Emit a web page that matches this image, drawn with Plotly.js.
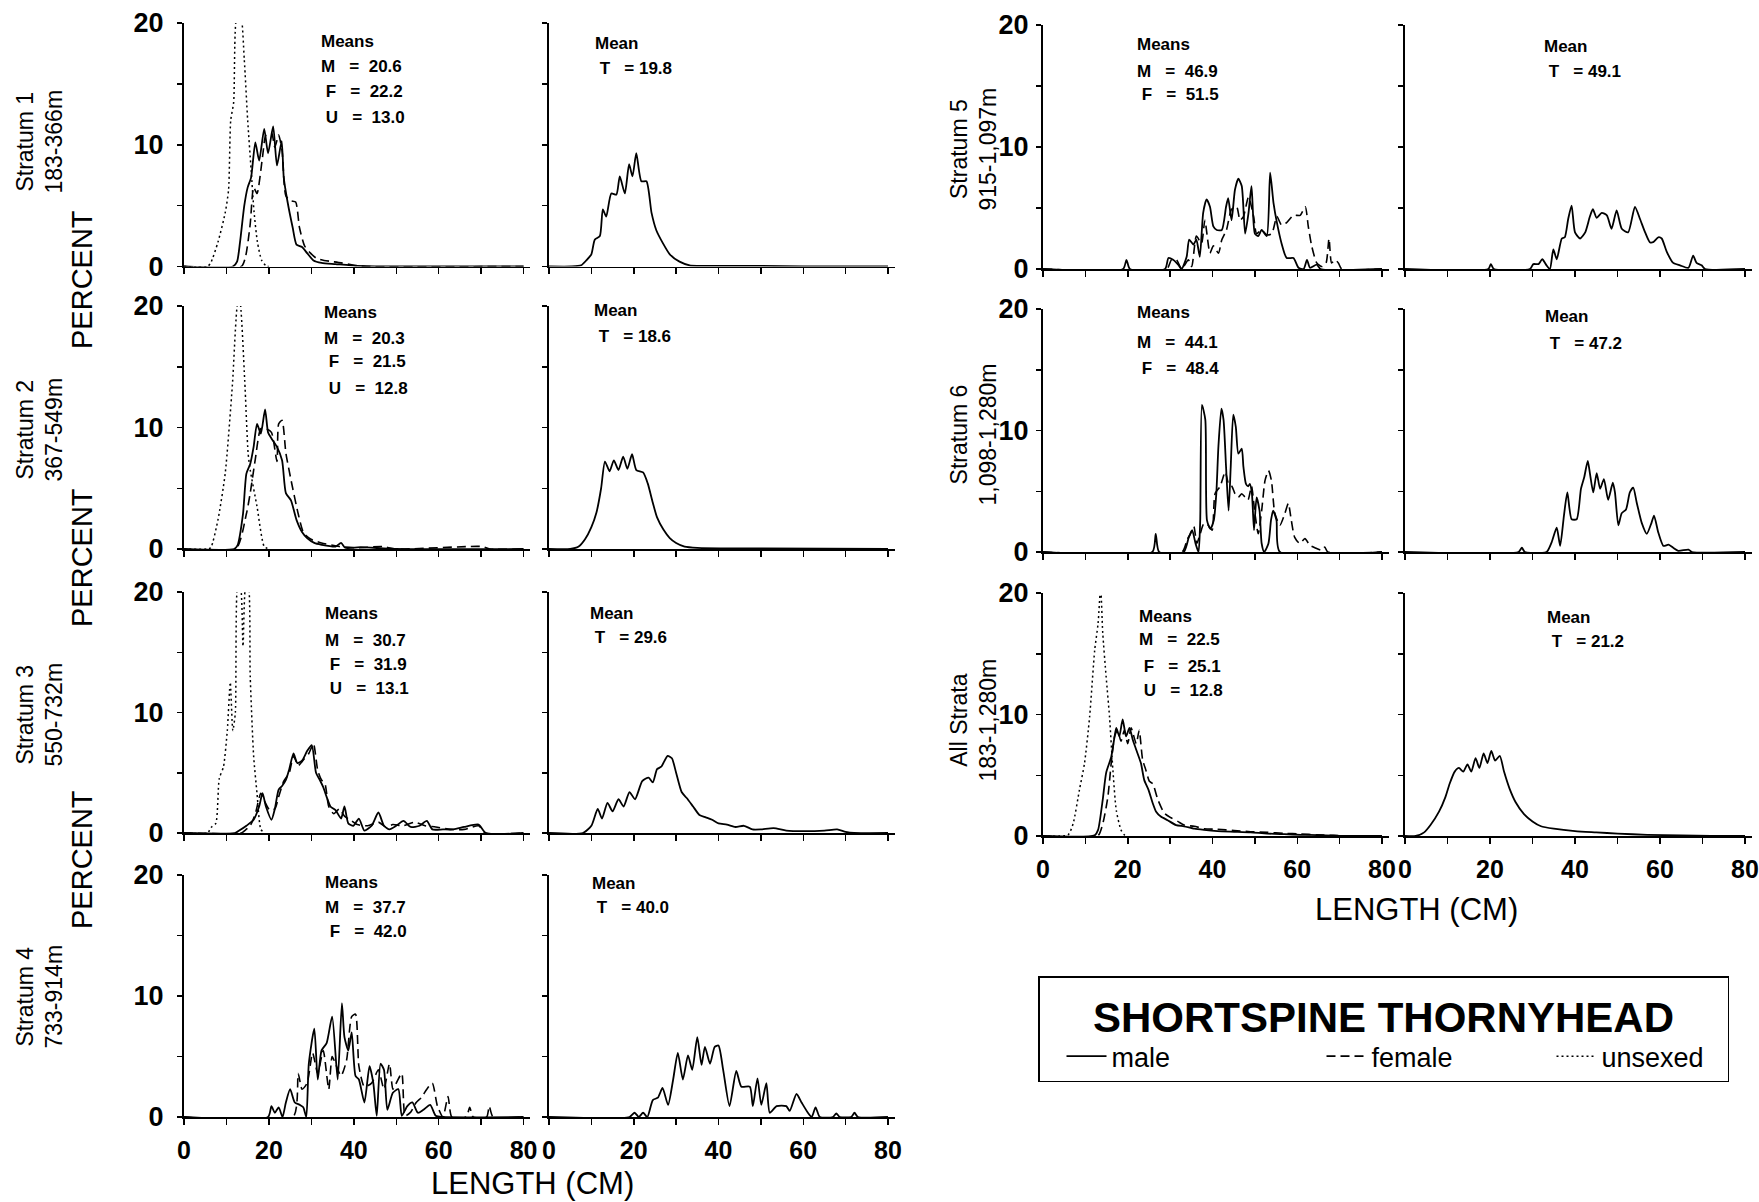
<!DOCTYPE html>
<html>
<head>
<meta charset="utf-8">
<script src="https://cdn.plot.ly/plotly-3.0.1.min.js"></script>
<style>
  html, body { margin: 0; padding: 0; background: #fff; }
  #chart { width: 1759px; height: 1202px; }
</style>
</head>
<body>
<div id="chart"></div>
<script>
// ---------------- DATA ----------------

// Stratum 1 (183-366m)
const m1x = [0,11.5,12.5,13.2,14.2,15,15.8,16.8,17.7,18.9,19.8,21,21.9,23,23.5,24.4,25.6,26.5,27.8,29,30.5,32.4,35.7,40.8,45,80];
const m1y = [0,0,0.4,2,5,6.5,7.3,10.2,8.7,11.3,9.3,11.5,8.3,10.3,7.3,5.3,3.2,1.8,1.6,1.1,0.5,0.3,0.2,0.05,0,0];
const f1x = [0,13.5,14.5,15.6,16.4,17.2,18.5,19.3,20.6,21.4,22.3,23.1,24,25.2,26.3,27.2,28.4,29.8,31.1,33,35,37,40,43,80];
const f1y = [0,0,0.8,3.5,6.5,6,9,10.8,11,9.8,10.8,9.5,5.8,5.4,5.3,3.2,1.7,1.1,0.7,0.5,0.4,0.3,0.1,0,0];
const u1x = [0,5.5,6.3,8,9.7,10.5,11,11.7,12.4,13.3,14.2,15,15.8,16.5,17.3,18.3,19.5,20];
const u1y = [0,0,0.3,2,4.4,6.3,12,13.5,20.5,20.8,17,12,8,4.5,2,0.5,0,0];
const t1x = [0,5.3,7.6,8.8,10,10.8,12,12.7,13.5,14.7,15.9,16.7,17.9,18.9,19.7,20.6,21.8,23,24.2,25.3,26.9,28.5,30.8,33.2,40,50,60,80];
const t1y = [0,0,0.1,0.5,1,2.2,2.5,4.7,4.1,6,5.9,7.4,6,8.4,7.4,9.3,7,7,4.4,3,1.9,1,0.4,0.1,0.05,0.05,0,0];

// Stratum 2 (367-549m)
const m2x = [0,11.8,12.6,13.9,14.7,15.6,16.4,17.2,18.1,19.1,19.8,20.6,21.9,23.1,24,25.2,26.5,27.8,29,30.7,32.4,35.7,37,38,41.6,50,80];
const m2y = [0,0,0.3,2.9,6.2,7,8.4,10.3,9.5,11.5,9.6,9.1,8.4,7.3,4.6,4,2.4,1.4,0.9,0.5,0.35,0.2,0.5,0.1,0.15,0,0];
const f2x = [0,12.2,14.7,15.6,16.8,18.1,19.3,20.6,21.9,22.3,23.1,24,25.2,26.9,28.2,29.9,32.4,36.6,40.8,46.7,50,70.2,72,80];
const f2y = [0,0,2.9,4.6,7.4,9.9,9.9,9.6,7.2,10.3,10.6,7.9,5.7,2.9,1.3,0.8,0.5,0.2,0.1,0.2,0,0.2,0,0];
const u2x = [0,5.5,6.3,8,9.7,11.4,12.6,13.1,14.3,15.1,15.6,17.2,18.9,20];
const u2y = [0,0,0.1,2.4,6.2,13.5,20.2,20.6,13.9,7.9,6.5,3.5,0.2,0];
const t2x = [0,5,7,8.5,10,11.2,12.3,13.2,14.3,15.3,16.4,17.5,18.5,19.6,20.6,22.2,23.3,24.5,25.5,27,28.5,30,32,35,45,80];
const t2y = [0,0,0.2,0.8,1.8,3,5,7.2,6.4,7.3,6.5,7.6,6.6,7.8,6.5,6.3,5.4,3.8,2.6,1.6,0.9,0.5,0.2,0.1,0.05,0];

// Stratum 3 (550-732m)
const m3x = [0,12,13,14.7,16.4,17.7,18.5,19.3,20.6,21.4,22.3,23.1,24,24.8,25.8,26.7,27.8,29,30.1,31.1,32,32.8,33.6,34.5,35.7,37,37.8,38.7,39.9,41.2,42.5,44.2,45.8,47.1,48.4,50,51.7,53.4,55.5,57.2,58.5,61,63.5,66,69.4,71.1,80];
const m3y = [0,0,0.2,0.6,1.1,2.2,3.3,2.2,1.1,2,3.6,3.9,4.4,5.3,6.6,5.8,6,6.8,7.3,5,4.4,3.8,3,2.2,1.9,1.2,2.2,0.8,0.6,1.2,0.2,0.6,1.7,0.6,0.3,0.6,1,0.5,0.6,1,0.3,0.3,0.3,0.5,0.7,0,0];
const f3x = [0,13.5,14.3,15.6,16.8,18.1,18.9,20.2,21.4,22.3,23.5,24.8,25.8,26.9,28.2,29.4,30.5,31.5,32.4,33.2,34.1,35.3,36.6,37.8,39.5,40.8,43.3,45.8,47.5,49.2,51.7,54.3,56.8,59.3,62.7,66,69.4,71,80];
const f3y = [0,0,0.2,0.6,1.6,3.3,2.7,1.9,2,3,4.3,5,6.4,5.6,6.1,6.6,7.4,5.2,4.4,4.1,2.2,1.6,2,1.4,1,0.7,0.6,0.9,0.5,0.7,0.6,0.9,0.6,0.5,0.3,0.3,0.6,0,0];
const u3x = [0,5.5,6.5,7.5,8.3,9.3,10.2,10.9,11.5,12.1,12.7,13.3,13.9,14.6,15.1,15.6,16.4,17.2,18.1,19];
const u3y = [0,0,0.5,0.8,4.5,5.5,8.5,12.5,8.5,10,20.7,20.5,15.5,20.7,20.7,13,6.4,3.3,0.3,0];
const t3x = [0,8,10,11.5,12.5,13.8,15,16.4,17.6,19,20.3,22,23.5,24.5,25.5,26.5,28,29,30,31.3,32.5,34,35.5,37,38.5,40,42,44,46,48,50,53,56,60,65,68,70,72,80];
const t3y = [0,0,0.6,2,1.2,2.5,1.8,2.8,2.2,3.4,2.8,4.3,4.6,4.2,5.3,5.5,6.4,6.2,5,3.4,2.9,2.2,1.5,1.3,1.1,0.8,0.7,0.5,0.6,0.3,0.3,0.4,0.2,0.15,0.2,0.3,0.1,0,0];

// Stratum 4 (733-914m)
const m4x = [0,19.8,20.6,21.4,22.3,23.2,24,25,26.1,27.3,28.1,28.8,29.4,30.7,31.5,32.4,33.6,34.9,36.2,37.2,37.8,38.7,39.5,40.4,41.2,42.5,43.7,44.6,45.4,46.3,47.1,47.9,49.2,50.5,51.3,52.6,53.8,55.1,56.4,58,59.3,61,80];
const m4y = [0,0,0.9,0.35,0.8,0,1.2,2.3,1.2,1,0.8,0,4.4,7.3,3.1,5.5,6.1,8.3,3.1,9.4,6.6,5.5,7,3.4,3.1,1.2,4.2,2.8,0.1,4.4,3.9,0.6,2,2.3,0.1,0.9,1.2,0.35,0.6,1,0.1,0,0];
const f4x = [0,25.7,26.9,27.8,29,30.3,31.5,32.8,34.1,34.9,35.7,37,38.3,39.5,40.4,41.2,42.5,44.2,45.8,47.1,48.4,49.2,50,51.3,52.1,53.4,54.7,55.9,57.2,58.5,59.7,61,62.2,63.1,66.5,67.3,68.1,71.3,71.9,72.8,80];
const f4y = [0,0,3.6,2.3,2.8,5.3,3.6,5.5,2.3,5,4.4,3.4,4.7,8.3,8.5,4.2,2.5,2.8,3.9,2.3,4.4,2.3,2.8,3.6,0.1,0.4,1.2,1.6,2.3,2.8,0.9,0,1.7,0,0,0.8,0,0,0.9,0,0];
const t4x = [0,19,20.2,21.2,22.2,23.2,24.5,25.7,26.8,28.1,29.3,30.4,31.6,32.8,33.8,35,36,36.8,38,39.1,40,41.1,42.6,44.2,45.4,47.4,48.1,49.2,50.1,51.3,52.1,53.7,56,56.8,58.4,59.6,61.1,62,62.9,63.9,67,67.8,68.6,71.3,72.1,72.9,80];
const t4y = [0,0,0.35,0,0.35,0,1.4,1.6,2.4,1,3.1,5.3,3.1,5.1,3.9,6.6,4.3,5.8,4.4,5.8,5.9,3.9,0.9,3.8,2.5,2.5,0.9,3.2,1,2.8,0.35,0.9,0.9,0.5,1.9,1.2,0.35,0,0.8,0,0,0.3,0,0,0.35,0,0];

// Stratum 5 (915-1,097m)
const m5x = [0,18.9,19.7,20.5,28.8,29.6,30.7,31.9,32.7,33.9,34.5,35.5,36.2,37,37.8,38.6,39.4,40.2,41,42.2,43.2,43.7,44.5,45.3,46.1,46.9,47.7,48.5,49.2,50,50.8,51.6,52.8,53.6,54.4,55.2,56.3,57.5,59.1,60.3,61.5,62.3,63,64.6,65.5,80];
const m5y = [0,0,0.75,0,0,0.9,0.75,0.35,0,1,2.4,2,2.4,1,4.6,5.7,5.1,3.5,3.2,3.2,5.1,5.8,4,6.5,7.4,6.8,2.9,4.6,6.8,2.9,2.7,3.2,2.7,7.9,5.4,3.8,2.1,0.9,0.9,0.1,0,0.75,0.1,0.35,0,0];
const f5x = [0,29.2,30.3,31.5,32.7,34.3,35.1,36.2,37.4,38.2,39.4,40.2,41.4,42.2,43.3,44.5,45.7,46.5,47.3,48.5,49.7,50.4,51.6,52.8,54,55.2,56.3,57.5,59.1,60.7,61.9,62.6,63.4,64.6,65.8,66.8,67.5,68.1,68.9,69.7,70.5,80];
const f5y = [0,0,0.75,0.75,0,0.75,0.2,2.7,2.1,4,1.3,1.9,1.3,2.4,3.2,4.9,5.1,4,4.3,5.9,4.3,2.9,3.2,2.8,2.9,4.3,3.6,3.8,4.4,4.4,5.1,3.5,1.9,0.5,0.2,0.5,2.5,0.5,0.75,0.5,0,0];
const t5x = [0,19.6,20.2,20.9,29.4,30.2,31.4,32.3,33.3,34.1,34.9,35.7,36.9,37.6,38.4,39.2,40,41.2,42.4,43.5,44.2,45.1,46.3,47.5,48.6,49.8,51,52.5,54.1,55.3,56.5,57.6,58.4,59.6,60.4,61.6,63.1,64.7,66.7,67.8,68.6,69.8,70.6,80];
const t5y = [0,0,0.4,0,0,0.4,0.4,0.8,0.3,0,1.6,0.8,2.5,2.6,4.1,5.2,3,2.5,3,4.3,4.9,4.2,4.6,4.4,3.3,4.8,3.3,3,5.1,4.1,3,2.2,2.2,2.6,2.5,1.4,0.5,0.3,0.1,1.1,0.5,0.3,0,0];

// Stratum 6 (1,098-1,280m)
const m6x = [0,25.8,26.6,27.4,33.2,34.4,35.2,36,36.7,37.1,37.5,38.3,38.7,39.5,40.3,40.9,41.4,42.1,42.6,43.2,43.8,44.3,44.9,45.5,46.1,46.9,47.3,47.9,48.4,48.8,49.3,49.8,50.4,51.1,51.6,52.2,53.2,53.8,54.3,55.1,55.9,80];
const m6y = [0,0,1.5,0,0,1.2,1.8,0.7,0,2.6,12.1,10.9,2.6,1.9,2.6,4.8,8.7,11.8,10.9,7,3.4,7,11.3,10.3,8.1,8.5,7,5.6,5.4,5.6,4.8,1.8,4.5,3.4,0.7,0,0.7,2.6,3.4,2.6,0,0];
const f6x = [0,32.8,34,34.8,35.6,36.3,37.1,37.9,38.7,39.9,40.6,41.8,43,43.8,44.6,45.3,46.1,46.9,47.7,48.4,49.2,50,50.8,51.6,52.4,53.2,53.9,54.7,55.9,57.1,57.9,58.6,59.4,60.6,61.8,63,64.5,65.7,66.5,67.2,80];
const f6y = [0,0,1,1.5,2.1,0.7,1.5,2.3,2.3,1.8,4.8,5.4,6.6,5.6,5.4,4.8,4.5,4.8,4.5,4.3,5.4,3.2,1.5,3.4,5.9,6.7,5.9,3.2,2.2,3.2,4,2.6,1.2,0.7,1.1,0.55,0.3,0.15,0.4,0,0];
const t6x = [0,26.7,27.5,28.2,33.3,34.5,35.7,36.5,37.4,38.2,39.2,40.4,41.4,42.2,43,43.5,44.3,45.1,45.9,46.8,47.8,48.9,49.4,50.2,51,52,52.9,53.7,54.5,55.7,56.9,58,58.6,59.6,60.8,62,63.1,64.3,66.7,67.5,80];
const t6y = [0,0,0.35,0,0,0.8,2,0.5,3,4.9,2.7,2.7,5.2,6.2,7.5,6.5,4.9,6.5,5.2,6,4.3,5.7,4.9,2.2,3.2,3.5,4.9,5.3,4.1,2.4,1.5,2.4,3,1.6,0.5,0.6,0.35,0.1,0.2,0,0];

// All strata (183-1,280m)
const m7x = [0,12.2,13,14.1,14.9,16.1,16.9,17.3,18,18.8,19.6,20.4,21.2,22,23.1,23.9,24.9,25.9,26.7,27.8,29.4,31.4,33.3,35.7,38,41.2,45.1,49,52.9,56.9,60.8,64.7,68.6,72,80];
const m7y = [0,0.05,0.5,3,5.2,6.5,8.2,8.9,8.2,9.6,8.2,8.9,7.9,7.1,6,4.6,3.8,2.7,2,1.6,1.3,0.9,0.8,0.6,0.5,0.4,0.35,0.3,0.2,0.15,0.1,0.08,0.03,0,0];
const f7x = [0,12.9,14.1,15.3,16.1,16.9,17.6,18.4,19.2,20,20.8,22,22.7,23.5,24.3,25.1,25.9,27.1,28.6,30.2,31.8,33.3,35.7,38,41.2,45.1,49,52.9,56.9,60.8,64.7,68.6,72,80];
const f7y = [0,0,1,3.2,6,8.2,8.7,7.8,8.7,7.6,8.9,7.6,8.7,6.3,5.4,4.5,4.3,3,1.9,1.5,1.2,0.9,0.8,0.6,0.55,0.45,0.35,0.3,0.22,0.17,0.1,0.05,0,0];
const u7x = [0,5.9,7.1,8.6,9.8,11,12.2,13,13.6,14.1,14.9,15.7,16.5,17.3,18.4,19.2,20];
const u7y = [0,0.1,1,3.8,6,9.8,15.3,17.5,20.5,16.7,13.1,9.8,5.4,2.1,0.5,0.1,0];
const t7x = [0,2.5,4.5,6,8,9.5,10.5,11.7,12.7,13.7,14.7,15.6,16.6,17.5,18.5,19.4,20.3,21.2,22.3,23.3,24.6,26,28,30,32,35,40,45,50,57,65,72,80];
const t7y = [0,0,0.3,0.9,2,3.2,4.3,5.3,5.6,5.3,5.9,5.3,6.4,5.6,6.8,6,7,6.2,6.6,5.3,3.9,2.8,1.8,1.2,0.8,0.6,0.4,0.3,0.2,0.1,0.05,0,0];

// Text values
const strataNames  = ['Stratum 1','Stratum 2','Stratum 3','Stratum 4','Stratum 5','Stratum 6','All Strata'];
const strataDepths = ['183-366m','367-549m','550-732m','733-914m','915-1,097m','1,098-1,280m','183-1,280m'];
const meanMale    = ['20.6','20.3','30.7','37.7','46.9','44.1','22.5'];
const meanFemale  = ['22.2','21.5','31.9','42.0','51.5','48.4','25.1'];
const meanUnsexed = ['13.0','12.8','13.1',null,null,null,'12.8'];
const meanTotal   = ['19.8','18.6','29.6','40.0','49.1','47.2','21.2'];
const xTickVals = [0,10,20,30,40,50,60,70,80];
const xTickText = ['0','','20','','40','','60','','80'];
const yTickVals = [0,5,10,15,20];
const yTickText = ['0','','10','','20'];
const speciesTitle = 'SHORTSPINE THORNYHEAD';
const seriesNames = ['male','female','unsexed'];

// ---------------- LAYOUT ----------------
const W = 1759, H = 1202;
const FONT = 'Liberation Sans, Arial, Helvetica, sans-serif';
const XMAX = 81.6;
const NB = '\u00a0';

// panel geometry in page pixels: x0 = pixel of length 0, ppc = pixels per cm, top/bot = pixel rows of 20 and 0 percent
const rowsL = [[23,266.5],[306,549],[592,833],[875,1117]];
const rowsR = [[25,269],[309,552],[593,836]];
const colsL = [[184,4.245],[549,4.2375]];
const colsR = [[1043,4.2375],[1405,4.25]];

const strataGeom = [];
rowsL.forEach((r,i)=>strataGeom.push({row:r, cols:colsL, bottom:i===3, side:'L'}));
rowsR.forEach((r,i)=>strataGeom.push({row:r, cols:colsR, bottom:i===2, side:'R'}));

const seriesByStratum = [
  {m:[m1x,m1y], f:[f1x,f1y], u:[u1x,u1y], t:[t1x,t1y]},
  {m:[m2x,m2y], f:[f2x,f2y], u:[u2x,u2y], t:[t2x,t2y]},
  {m:[m3x,m3y], f:[f3x,f3y], u:[u3x,u3y], t:[t3x,t3y]},
  {m:[m4x,m4y], f:[f4x,f4y], u:null,      t:[t4x,t4y]},
  {m:[m5x,m5y], f:[f5x,f5y], u:null,      t:[t5x,t5y]},
  {m:[m6x,m6y], f:[f6x,f6y], u:null,      t:[t6x,t6y]},
  {m:[m7x,m7y], f:[f7x,f7y], u:[u7x,u7y], t:[t7x,t7y]}
];

// annotation anchor positions (data units): sexed panel [x, yMeans, yM, yF, yU], total panel [x, yMean, yT]
const sexedTextPos = [
  [31.7,18.45,16.4,14.35,12.2],
  [32.6,19.5,17.35,15.4,13.2],
  [32.8,18.2,16.0,14.0,12.0],
  [32.8,19.4,17.3,15.3,null],
  [21.7,18.4,16.2,14.3,null],
  [21.7,19.7,17.25,15.1,null],
  [22.1,18.05,16.15,13.95,12.0]
];
const totalTextPos = [
  [10.3,18.3,16.3],[10.2,19.6,17.5],[9.2,18.2,16.25],[9.7,19.3,17.3],
  [32.2,18.2,16.2],[32.5,19.4,17.2],[32.9,18.0,16.0]
];
const rowLabelPos = [[39.5,142],[39.5,430],[39.5,715],[39.5,997],[973.5,149],[973.5,435],[973.5,720]];

const styles = {
  m: {color:'#000', width:1.8, dash:'solid'},
  f: {color:'#000', width:1.6, dash:'9px,5px'},
  u: {color:'#000', width:1.5, dash:'2px,3px'},
  t: {color:'#000', width:1.8, dash:'solid'}
};
const legendWidths = {m: 183, f: 153, u: 121};

const traces = [];
const layout = {
  width: W, height: H,
  margin: {l:0, r:0, t:0, b:0, pad:0, autoexpand:false},
  paper_bgcolor: '#fff', plot_bgcolor: 'rgba(0,0,0,0)',
  font: {family: FONT, color: '#000'},
  showlegend: true,
  legend: {
    x: 1038/W, y: 1 - 976/H, xanchor: 'left', yanchor: 'top',
    orientation: 'h',
    bgcolor: '#fff', bordercolor: '#000', borderwidth: 1.5,
    font: {family: FONT, size: 27, color:'#000'},
    title: {text: '<b>' + speciesTitle + '</b>', side: 'top center', font: {family: FONT, size: 42, color:'#000'}},
    entrywidth: 121, entrywidthmode: 'pixels',
    indentation: 22,
    itemwidth: 40, tracegroupgap: 0, traceorder: 'normal'
  },
  annotations: [],
  shapes: []
};

function axId(n){ return n === 1 ? '' : String(n); }

let n = 0;
strataGeom.forEach((g, s) => {
  const data = seriesByStratum[s];
  [0,1].forEach(c => {
    n += 1;
    const id = axId(n);
    const [x0, ppc] = g.cols[c];
    const [top, bot] = g.row;
    layout['xaxis' + id] = {
      domain: [x0 / W, (x0 + XMAX * ppc) / W],
      range: [0, XMAX], anchor: 'y' + id,
      showgrid: false, zeroline: false, showline: true, linecolor: '#000', linewidth: 1.6,
      ticks: 'outside', ticklen: 6, tickwidth: 1.5, tickcolor: '#000',
      tickmode: 'array', tickvals: xTickVals, ticktext: xTickText,
      showticklabels: g.bottom, ticklabelstandoff: 4, ticklabeloverflow: 'allow',
      tickfont: {family: FONT, size: 25, color: '#000', weight: 700},
      fixedrange: true
    };
    layout['yaxis' + id] = {
      domain: [1 - bot / H, 1 - top / H],
      range: [0, 20], anchor: 'x' + id,
      showgrid: false, zeroline: false, showline: true, linecolor: '#000', linewidth: 2,
      ticks: 'outside', ticklen: 5, tickwidth: 1.5, tickcolor: '#000',
      tickmode: 'array', tickvals: yTickVals, ticktext: yTickText,
      showticklabels: c === 0, ticklabelstandoff: g.side === 'L' ? 8 : 2, ticklabeloverflow: 'allow',
      tickfont: {family: FONT, size: 27, color: '#000', weight: 700},
      fixedrange: true
    };
    const xa = n === 1 ? 'x' : 'x' + n, ya = n === 1 ? 'y' : 'y' + n;
    const addLine = (kind, xy, legend) => traces.push({
      type: 'scatter', mode: 'lines', x: xy[0], y: xy[1], xaxis: xa, yaxis: ya,
      name: {m:seriesNames[0], f:seriesNames[1], u:seriesNames[2], t:'total'}[kind],
      showlegend: !!legend, legendwidth: legendWidths[kind], hoverinfo: 'skip',
      line: Object.assign({shape: 'spline', smoothing: 0.6}, styles[kind])
    });
    const txt = (x, y, text) => layout.annotations.push({
      xref: xa, yref: ya, x: x, y: y, text: text, showarrow: false,
      xanchor: 'left', yanchor: 'middle',
      font: {family: FONT, size: 17, color: '#000', weight: 700}
    });
    if (c === 0) {
      addLine('m', data.m, s === 0);
      addLine('f', data.f, s === 0);
      if (data.u) addLine('u', data.u, s === 0);
      const p = sexedTextPos[s];
      const eq = NB + NB + NB + '=' + NB + NB;
      txt(p[0], p[1], 'Means');
      txt(p[0], p[2], 'M' + eq + meanMale[s]);
      txt(p[0], p[3], NB + 'F' + eq + meanFemale[s]);
      if (meanUnsexed[s]) txt(p[0], p[4], NB + 'U' + eq + meanUnsexed[s]);
    } else {
      addLine('t', data.t, false);
      const p = totalTextPos[s];
      txt(p[0], p[1], 'Mean');
      txt(p[0], p[2], NB + 'T' + NB + NB + NB + '=' + NB + meanTotal[s]);
    }
  });
  const rp = rowLabelPos[s];
  layout.annotations.push({
    xref: 'paper', yref: 'paper', x: rp[0] / W, y: 1 - rp[1] / H,
    text: strataNames[s] + '<br>' + strataDepths[s], showarrow: false, textangle: -90,
    xanchor: 'center', yanchor: 'middle', align: 'center',
    font: {family: FONT, size: 23, color: '#000'}
  });
});

[280, 558, 860].forEach(yp => layout.annotations.push({
  xref: 'paper', yref: 'paper', x: 82 / W, y: 1 - yp / H, text: 'PERCENT',
  showarrow: false, textangle: -90, xanchor: 'center', yanchor: 'middle',
  font: {family: FONT, size: 29, color: '#000'}
}));
[[532, 1183], [1416, 909]].forEach(p => layout.annotations.push({
  xref: 'paper', yref: 'paper', x: p[0] / W, y: 1 - p[1] / H, text: 'LENGTH (CM)',
  showarrow: false, xanchor: 'center', yanchor: 'middle',
  font: {family: FONT, size: 31, color: '#000'}
}));

Plotly.newPlot('chart', traces, layout, {displayModeBar: false, staticPlot: true});
</script>
</body>
</html>
